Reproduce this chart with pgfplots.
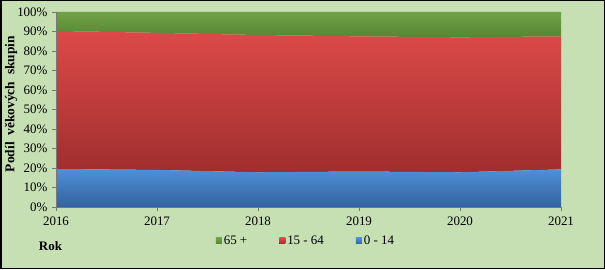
\documentclass[border=0pt]{standalone}
\usepackage{pgfplots}
\pgfplotsset{compat=1.18}
\usepackage{fontspec}
\setmainfont{Liberation Serif}
\definecolor{bg}{RGB}{198,224,180}
\definecolor{gtop}{RGB}{112,160,70}
\definecolor{gbot}{RGB}{88,135,52}
\definecolor{rtop}{RGB}{220,74,72}
\definecolor{rbot}{RGB}{160,46,46}
\definecolor{btop}{RGB}{78,144,214}
\definecolor{bbot}{RGB}{52,98,160}
\definecolor{axgray}{RGB}{120,120,120}
\begin{document}
\begin{tikzpicture}[x=1bp,y=1bp]
\fill[bg] (0,0) rectangle (605,269);
\draw[black, line width=1.5bp] (0.75,0.75) rectangle (604.25,268.25);
\node[font=\fontsize{13.5}{15}\selectfont\bfseries, rotate=90] at (11,165) {Podíl\ \ věkových\ \ skupin};
\node[font=\fontsize{13}{15}\selectfont\bfseries] at (50.5,23) {Rok};
\begin{axis}[
  at={(56bp,62bp)}, anchor=south west,
  scale only axis, width=505bp, height=195bp,
  xmin=2016, xmax=2021, ymin=0, ymax=100,
  stack plots=y,
  area style,
  axis x line*=bottom, axis y line*=left,
  axis line style={axgray},
  xtick={2016,2017,2018,2019,2020,2021},
  ytick={0,10,...,100},
  xticklabel={\pgfmathprintnumber[1000 sep={}]{\tick}},
  yticklabel={\pgfmathprintnumber{\tick}\%},
  /pgf/number format/assume math mode=true,
  tick label style={font=\fontsize{13}{15}\selectfont},
  tick style={axgray, line width=0.6pt},
  tick align=outside,
  major tick length=4bp,
  xtick pos=bottom, ytick pos=left,
  yticklabel style={xshift=-1bp},
  xticklabel style={yshift=-2bp},
  reverse legend,
  legend columns=3,
  legend style={at={(rel axis cs:0.495,-0.174)}, anchor=center, draw=none, fill=none,
    font=\fontsize{13}{15}\selectfont, inner sep=0pt,
    /tikz/every even column/.append style={column sep=30bp}},
  legend image code/.code={\fill[#1] (0bp,-3bp) rectangle (6bp,3bp);},
]
\addplot[draw=none, top color=btop, bottom color=bbot] coordinates {(2016,19.5) (2017,19.0) (2018,17.8) (2019,18.2) (2020,17.8) (2021,19.3)} \closedcycle;
\addlegendentry{0 - 14}
\addplot[draw=none, top color=rtop, bottom color=rbot] coordinates {(2016,70.8) (2017,70.3) (2018,70.4) (2019,69.3) (2020,69.2) (2021,68.2)} \closedcycle;
\addlegendentry{15 - 64}
\addplot[draw=none, top color=gtop, bottom color=gbot] coordinates {(2016,9.7) (2017,10.7) (2018,11.8) (2019,12.5) (2020,13.0) (2021,12.5)} \closedcycle;
\addlegendentry{65 +}
\end{axis}
\end{tikzpicture}
\end{document}
